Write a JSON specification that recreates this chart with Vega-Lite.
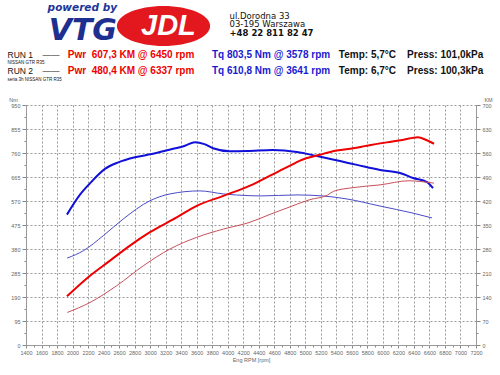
{
  "$schema": "https://vega.github.io/schema/vega-lite/v6.json",
  "padding": {"left": 7, "top": 0, "right": 0, "bottom": 0},
  "background": "white",
  "spacing": 13,
  "config": {"view": {"stroke": null}, "font": "Liberation Sans"},
  "datasets": {
    "header": [
      {"row": "RUN 1", "pwr": "Pwr\u00a0 607,3 KM @ 6450 rpm", "tq": "Tq 803,5 Nm @ 3578 rpm", "env": "Temp: 5,7°C\u00a0\u00a0\u00a0 Press: 101,0kPa", "brand": "JDL"},
      {"row": "RUN 2", "pwr": "Pwr\u00a0 480,4 KM @ 6337 rpm", "tq": "Tq 610,8 Nm @ 3641 rpm", "env": "Temp: 6,7°C\u00a0\u00a0\u00a0 Press: 100,3kPa", "brand": "JDL"}
    ],
    "curves": [
      {"run": "RUN 1", "kind": "Tq", "rpm": 1928, "v": 516},
      {"run": "RUN 1", "kind": "Tq", "rpm": 2096, "v": 595},
      {"run": "RUN 1", "kind": "Tq", "rpm": 2225, "v": 640},
      {"run": "RUN 1", "kind": "Tq", "rpm": 2418, "v": 697},
      {"run": "RUN 1", "kind": "Tq", "rpm": 2590, "v": 723},
      {"run": "RUN 1", "kind": "Tq", "rpm": 2805, "v": 743},
      {"run": "RUN 1", "kind": "Tq", "rpm": 3020, "v": 756},
      {"run": "RUN 1", "kind": "Tq", "rpm": 3234, "v": 772},
      {"run": "RUN 1", "kind": "Tq", "rpm": 3449, "v": 789},
      {"run": "RUN 1", "kind": "Tq", "rpm": 3578, "v": 803},
      {"run": "RUN 1", "kind": "Tq", "rpm": 3700, "v": 795},
      {"run": "RUN 1", "kind": "Tq", "rpm": 3810, "v": 779},
      {"run": "RUN 1", "kind": "Tq", "rpm": 4029, "v": 767},
      {"run": "RUN 1", "kind": "Tq", "rpm": 4248, "v": 768},
      {"run": "RUN 1", "kind": "Tq", "rpm": 4583, "v": 772},
      {"run": "RUN 1", "kind": "Tq", "rpm": 4893, "v": 764},
      {"run": "RUN 1", "kind": "Tq", "rpm": 5151, "v": 748},
      {"run": "RUN 1", "kind": "Tq", "rpm": 5447, "v": 728},
      {"run": "RUN 1", "kind": "Tq", "rpm": 5666, "v": 713},
      {"run": "RUN 1", "kind": "Tq", "rpm": 5963, "v": 693},
      {"run": "RUN 1", "kind": "Tq", "rpm": 6221, "v": 681},
      {"run": "RUN 1", "kind": "Tq", "rpm": 6388, "v": 661},
      {"run": "RUN 1", "kind": "Tq", "rpm": 6569, "v": 645},
      {"run": "RUN 1", "kind": "Tq", "rpm": 6646, "v": 621},
      {"run": "RUN 2", "kind": "Tq", "rpm": 1930, "v": 344},
      {"run": "RUN 2", "kind": "Tq", "rpm": 2139, "v": 373},
      {"run": "RUN 2", "kind": "Tq", "rpm": 2397, "v": 433},
      {"run": "RUN 2", "kind": "Tq", "rpm": 2654, "v": 499},
      {"run": "RUN 2", "kind": "Tq", "rpm": 2998, "v": 571},
      {"run": "RUN 2", "kind": "Tq", "rpm": 3256, "v": 598},
      {"run": "RUN 2", "kind": "Tq", "rpm": 3641, "v": 610},
      {"run": "RUN 2", "kind": "Tq", "rpm": 3943, "v": 598},
      {"run": "RUN 2", "kind": "Tq", "rpm": 4287, "v": 591},
      {"run": "RUN 2", "kind": "Tq", "rpm": 4416, "v": 590},
      {"run": "RUN 2", "kind": "Tq", "rpm": 4893, "v": 594},
      {"run": "RUN 2", "kind": "Tq", "rpm": 5228, "v": 590},
      {"run": "RUN 2", "kind": "Tq", "rpm": 5537, "v": 578},
      {"run": "RUN 2", "kind": "Tq", "rpm": 5963, "v": 550},
      {"run": "RUN 2", "kind": "Tq", "rpm": 6388, "v": 522},
      {"run": "RUN 2", "kind": "Tq", "rpm": 6633, "v": 503},
      {"run": "RUN 1", "kind": "Pwr", "rpm": 1928, "v": 142},
      {"run": "RUN 1", "kind": "Pwr", "rpm": 2225, "v": 202},
      {"run": "RUN 1", "kind": "Pwr", "rpm": 2483, "v": 246},
      {"run": "RUN 1", "kind": "Pwr", "rpm": 2740, "v": 290},
      {"run": "RUN 1", "kind": "Pwr", "rpm": 2998, "v": 329},
      {"run": "RUN 1", "kind": "Pwr", "rpm": 3342, "v": 372},
      {"run": "RUN 1", "kind": "Pwr", "rpm": 3600, "v": 406},
      {"run": "RUN 1", "kind": "Pwr", "rpm": 3943, "v": 435},
      {"run": "RUN 1", "kind": "Pwr", "rpm": 4287, "v": 465},
      {"run": "RUN 1", "kind": "Pwr", "rpm": 4545, "v": 494},
      {"run": "RUN 1", "kind": "Pwr", "rpm": 4803, "v": 523},
      {"run": "RUN 1", "kind": "Pwr", "rpm": 4932, "v": 538},
      {"run": "RUN 1", "kind": "Pwr", "rpm": 5189, "v": 555},
      {"run": "RUN 1", "kind": "Pwr", "rpm": 5405, "v": 567},
      {"run": "RUN 1", "kind": "Pwr", "rpm": 5615, "v": 574},
      {"run": "RUN 1", "kind": "Pwr", "rpm": 5791, "v": 581},
      {"run": "RUN 1", "kind": "Pwr", "rpm": 6049, "v": 591},
      {"run": "RUN 1", "kind": "Pwr", "rpm": 6250, "v": 598},
      {"run": "RUN 1", "kind": "Pwr", "rpm": 6450, "v": 606},
      {"run": "RUN 1", "kind": "Pwr", "rpm": 6560, "v": 598},
      {"run": "RUN 1", "kind": "Pwr", "rpm": 6659, "v": 587},
      {"run": "RUN 2", "kind": "Pwr", "rpm": 1933, "v": 95},
      {"run": "RUN 2", "kind": "Pwr", "rpm": 2225, "v": 124},
      {"run": "RUN 2", "kind": "Pwr", "rpm": 2569, "v": 173},
      {"run": "RUN 2", "kind": "Pwr", "rpm": 2912, "v": 231},
      {"run": "RUN 2", "kind": "Pwr", "rpm": 3256, "v": 280},
      {"run": "RUN 2", "kind": "Pwr", "rpm": 3600, "v": 314},
      {"run": "RUN 2", "kind": "Pwr", "rpm": 3943, "v": 338},
      {"run": "RUN 2", "kind": "Pwr", "rpm": 4287, "v": 358},
      {"run": "RUN 2", "kind": "Pwr", "rpm": 4545, "v": 381},
      {"run": "RUN 2", "kind": "Pwr", "rpm": 4803, "v": 403},
      {"run": "RUN 2", "kind": "Pwr", "rpm": 5060, "v": 424},
      {"run": "RUN 2", "kind": "Pwr", "rpm": 5284, "v": 437},
      {"run": "RUN 2", "kind": "Pwr", "rpm": 5361, "v": 448},
      {"run": "RUN 2", "kind": "Pwr", "rpm": 5615, "v": 459},
      {"run": "RUN 2", "kind": "Pwr", "rpm": 5963, "v": 467},
      {"run": "RUN 2", "kind": "Pwr", "rpm": 6337, "v": 479},
      {"run": "RUN 2", "kind": "Pwr", "rpm": 6478, "v": 477},
      {"run": "RUN 2", "kind": "Pwr", "rpm": 6659, "v": 472}
    ]
  },
  "vconcat": [
    {
      "width": 450,
      "height": 84,
      "title": {
        "text": "powered by",
        "subtitle": "VTG",
        "frame": "group",
        "anchor": "start",
        "align": "right",
        "dx": 91,
        "offset": -46,
        "font": "DejaVu Sans",
        "fontSize": 10.5,
        "fontStyle": "italic",
        "fontWeight": "bold",
        "color": "#1d3596",
        "subtitleFont": "DejaVu Sans",
        "subtitleFontSize": 30,
        "subtitleFontStyle": "italic",
        "subtitleFontWeight": "bold",
        "subtitleColor": "#1d2f8f",
        "subtitlePadding": 3
      },
      "data": {"name": "header"},
      "encoding": {
        "y": {
          "field": "row",
          "type": "nominal",
          "scale": {"type": "band", "domain": ["_1", "_2", "_3", "_4", "_5", "_6", "RUN 1", "NISSAN GTR R35", "RUN 2", "seria 3h NISSAN GTR R35"], "paddingInner": 0, "paddingOuter": 0},
          "axis": {
            "orient": "left",
            "domain": false,
            "ticks": false,
            "tickSize": 0,
            "grid": false,
            "labelAlign": "left",
            "labelPadding": 19,
            "labelBaseline": "middle",
            "labelOverlap": false,
            "labelColor": "#111111",
            "labelFont": "Liberation Sans",
            "labelFontSize": {"condition": {"test": "indexof(datum.value, 'RUN') == 0", "value": 8.5}, "value": 4.5},
            "labelExpr": "indexof(datum.value, '_') == 0 ? '' : (indexof(datum.value, 'RUN') == 0 ? datum.value + '\u00a0\u00a0\u00a0\u00a0\u2014\u2014' : datum.value)",
            "title": "+48 22 811 82 47",
            "titleX": 203,
            "titleY": 35.7,
            "titleAngle": 0,
            "titleAlign": "left",
            "titleBaseline": "alphabetic",
            "titleFont": "DejaVu Sans",
            "titleFontSize": 8.5,
            "titleFontWeight": "bold",
            "titleColor": "#111111"
          }
        }
      },
      "layer": [
        {
          "transform": [{"fold": ["pwr", "tq", "env"], "as": ["item", "label"]}],
          "mark": {"type": "text", "font": "Liberation Sans", "fontSize": 10, "fontWeight": "bold", "align": "center", "baseline": "middle"},
          "encoding": {
            "x": {
              "field": "item",
              "type": "nominal",
              "scale": {"type": "point", "domain": ["pwr", "tq", "env"], "padding": 0.607, "align": 0.618},
              "axis": {
                "orient": "top",
                "labels": false,
                "ticks": false,
                "domain": false,
                "grid": false,
                "title": ["ul.Dorodna 33", "03-195 Warszawa"],
                "titleX": 203,
                "titleY": 18.3,
                "titleAlign": "left",
                "titleBaseline": "alphabetic",
                "titleLineHeight": 8.6,
                "titleFont": "DejaVu Sans",
                "titleFontSize": 8.5,
                "titleFontWeight": "normal",
                "titleColor": "#111111"
              }
            },
            "text": {"field": "label"},
            "color": {"field": "item", "type": "nominal", "scale": {"domain": ["pwr", "tq", "env"], "range": ["#ee0000", "#1a1ad0", "#111111"]}, "legend": null}
          }
        },
        {
          "mark": {"type": "point", "filled": true, "opacity": 0},
          "encoding": {
            "color": {"value": "#e3171e"},
            "shape": {
              "field": "brand",
              "type": "nominal",
              "scale": {"range": ["M-2.33,0A2.33,1,0,1,1,2.33,0A2.33,1,0,1,1,-2.33,0Z"]},
              "legend": {
                "orient": "none",
                "legendX": 117.5,
                "legendY": 6,
                "title": null,
                "padding": 0,
                "symbolSize": 1600,
                "symbolOpacity": 1,
                "symbolFillColor": "#e3171e",
                "symbolStrokeColor": "#e3171e",
                "symbolStrokeWidth": 0,
                "labelColor": "#ffffff",
                "labelFont": "Liberation Sans",
                "labelFontSize": 29,
                "labelFontWeight": "bold",
                "labelFontStyle": "italic",
                "labelOffset": -42.5,
                "labelBaseline": "middle"
              }
            }
          }
        }
      ]
    },
    {
      "width": 450,
      "height": 240,
      "data": {"name": "curves"},
      "encoding": {
        "x": {
          "field": "rpm",
          "type": "quantitative",
          "scale": {"domain": [1400, 7200], "nice": false, "zero": false},
          "axis": {
            "values": [1400, 1500, 1600, 1700, 1800, 1900, 2000, 2100, 2200, 2300, 2400, 2500, 2600, 2700, 2800, 2900, 3000, 3100, 3200, 3300, 3400, 3500, 3600, 3700, 3800, 3900, 4000, 4100, 4200, 4300, 4400, 4500, 4600, 4700, 4800, 4900, 5000, 5100, 5200, 5300, 5400, 5500, 5600, 5700, 5800, 5900, 6000, 6100, 6200, 6300, 6400, 6500, 6600, 6700, 6800, 6900, 7000, 7100, 7200],
            "format": "d",
            "labelExpr": "datum.value % 200 == 0 ? datum.label : ''",
            "labelFontSize": 5.5,
            "labelColor": "#666666",
            "labelPadding": 2,
            "labelOverlap": false,
            "labelFlush": false,
            "tickSize": {"condition": {"test": "datum.value % 200 == 0", "value": 3}, "value": 2},
            "tickColor": "#888888",
            "domainColor": "#999999",
            "grid": true,
            "gridColor": "#9a9a9a",
            "gridDash": [2, 2],
            "gridOpacity": {"condition": {"test": "datum.value % 200 == 0", "value": 1}, "value": 0},
            "title": "Eng RPM [rpm]",
            "titleFontSize": 5.5,
            "titleFontWeight": "normal",
            "titleColor": "#666666",
            "titlePadding": 2
          }
        }
      },
      "layer": [
        {
          "transform": [{"filter": "datum.kind == 'Tq'"}],
          "mark": {"type": "line", "interpolate": "monotone"},
          "encoding": {
            "y": {
              "field": "v",
              "type": "quantitative",
              "scale": {"domain": [0, 950], "nice": false},
              "axis": {
                "orient": "left",
                "values": [0, 47.5, 95, 142.5, 190, 237.5, 285, 332.5, 380, 427.5, 475, 522.5, 570, 617.5, 665, 712.5, 760, 807.5, 855, 902.5, 950],
                "labelExpr": "datum.value % 95 == 0 ? datum.label : ''",
                "labelFontSize": 5.5,
                "labelColor": "#666666",
                "labelPadding": 2,
                "labelOverlap": false,
                "tickSize": {"condition": {"test": "datum.value % 95 == 0", "value": 4}, "value": 2},
                "tickColor": "#888888",
                "domainColor": "#999999",
                "grid": true,
                "gridColor": "#9a9a9a",
                "gridDash": [2, 2],
                "gridOpacity": {"condition": {"test": "datum.value % 95 == 0", "value": 1}, "value": 0},
                "title": "Nm",
                "titleAngle": 0,
                "titleX": -13,
                "titleY": -4,
                "titleAlign": "center",
                "titleBaseline": "alphabetic",
                "titleFontSize": 5.5,
                "titleFontWeight": "normal",
                "titleColor": "#666666"
              }
            },
            "color": {"field": "run", "type": "nominal", "scale": {"domain": ["RUN 1", "RUN 2"], "range": ["#1010d8", "#4b4bc8"]}, "legend": null},
            "strokeWidth": {"field": "run", "type": "ordinal", "scale": {"domain": ["RUN 1", "RUN 2"], "range": [2, 1]}, "legend": null}
          }
        },
        {
          "transform": [{"filter": "datum.kind == 'Pwr'"}],
          "mark": {"type": "line", "interpolate": "monotone"},
          "encoding": {
            "y": {
              "field": "v",
              "type": "quantitative",
              "scale": {"domain": [0, 700], "nice": false},
              "axis": {
                "orient": "right",
                "values": [0, 35, 70, 105, 140, 175, 210, 245, 280, 315, 350, 385, 420, 455, 490, 525, 560, 595, 630, 665, 700],
                "labelExpr": "datum.value % 70 == 0 ? datum.label : ''",
                "labelFontSize": 5.5,
                "labelColor": "#666666",
                "labelPadding": 2,
                "labelOverlap": false,
                "tickSize": {"condition": {"test": "datum.value % 70 == 0", "value": 4}, "value": 2},
                "tickColor": "#888888",
                "domainColor": "#999999",
                "grid": false,
                "title": "KM",
                "titleAngle": 0,
                "titleX": 12,
                "titleY": -4,
                "titleAlign": "center",
                "titleBaseline": "alphabetic",
                "titleFontSize": 5.5,
                "titleFontWeight": "normal",
                "titleColor": "#666666"
              }
            },
            "color": {"field": "run", "type": "nominal", "scale": {"domain": ["RUN 1", "RUN 2"], "range": ["#ee0000", "#c8505a"]}, "legend": null},
            "strokeWidth": {"field": "run", "type": "ordinal", "scale": {"domain": ["RUN 1", "RUN 2"], "range": [2, 1]}, "legend": null}
          }
        }
      ],
      "resolve": {"scale": {"y": "independent", "color": "independent", "strokeWidth": "independent"}}
    }
  ]
}
